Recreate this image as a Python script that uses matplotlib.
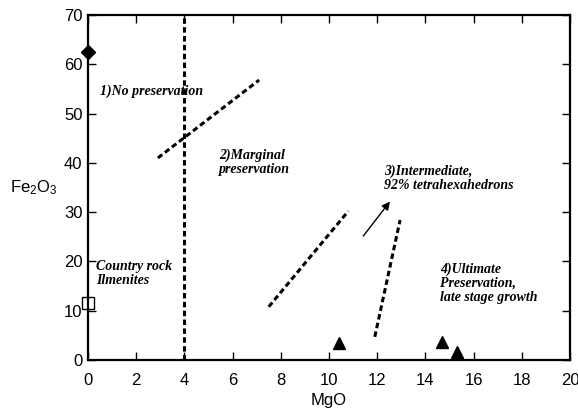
import matplotlib
matplotlib.use('Agg')
import matplotlib.pyplot as plt

plt.rcParams['mathtext.fontset'] = 'custom'
plt.rcParams['mathtext.rm'] = 'Liberation Sans'
plt.rcParams['mathtext.it'] = 'Liberation Sans:italic'

# sample points
diamond_x = [0]
diamond_y = [62.5]
square_x = [0]
square_y = [11.5]
tri_x = [10.4, 14.7, 15.3]
tri_y = [3.4, 3.6, 1.7]

# boundary lines (x pairs, y pairs)
bound_lines = [
    ([4, 4], [0, 70]),
    ([2.9, 7.1], [41, 56.8]),
    ([7.5, 10.8], [10.8, 30.2]),
    ([11.9, 12.95], [4.7, 28.4]),
]
arrow_start = (11.35, 24.7)
arrow_end = (12.6, 32.6)

labels = [
    (0.5, 54.5, '1)No preservation'),
    (5.45, 40.2, '2)Marginal\npreservation'),
    (12.3, 36.9, '3)Intermediate,\n92% tetrahexahedrons'),
    (14.6, 15.6, '4)Ultimate\nPreservation,\nlate stage growth'),
    (0.35, 17.6, 'Country rock\nIlmenites'),
]

fig = plt.figure(figsize=(5.78, 4.19), dpi=100)
ax = fig.add_axes([88/578, 59/419, 482/578, 345/419])

for xs, ys in bound_lines:
    ax.plot(xs, ys, color='black', lw=2.2, ls=(0, (1.8, 1.1)))
ax.annotate('', xy=arrow_end, xytext=arrow_start,
            arrowprops=dict(arrowstyle='-|>', color='black', lw=1.0, mutation_scale=12))

ax.plot(diamond_x, diamond_y, 'D', color='black', ms=7, clip_on=False)
ax.plot(square_x, square_y, 's', mfc='white', mec='black', ms=8, mew=1, clip_on=False)
ax.plot(tri_x, tri_y, '^', color='black', ms=9, clip_on=False)

for x, y, t in labels:
    ax.text(x, y, t, ha='left', va='center', family='Liberation Serif',
            fontweight='bold', fontstyle='italic', fontsize=10, linespacing=1.1)

ax.set_xlim(0, 20)
ax.set_ylim(0, 70)
ax.set_xticks(range(0, 21, 2))
ax.set_yticks(range(0, 71, 10))
ax.tick_params(direction='in', top=True, right=True, length=6, width=1,
               labelsize=12)
ax.tick_params(axis='x', pad=9)
ax.tick_params(axis='y', pad=4)
for lab in ax.get_xticklabels() + ax.get_yticklabels():
    lab.set_family('Liberation Sans')
for sp in ax.spines.values():
    sp.set_linewidth(1.6)

ax.set_xlabel('MgO', family='Liberation Sans', fontsize=12, labelpad=4)
ax.set_ylabel('Fe$_2$O$_3$', family='Liberation Sans', fontsize=12, rotation=0,
              labelpad=22, va='center')

fig.savefig('out.png', dpi=100)
